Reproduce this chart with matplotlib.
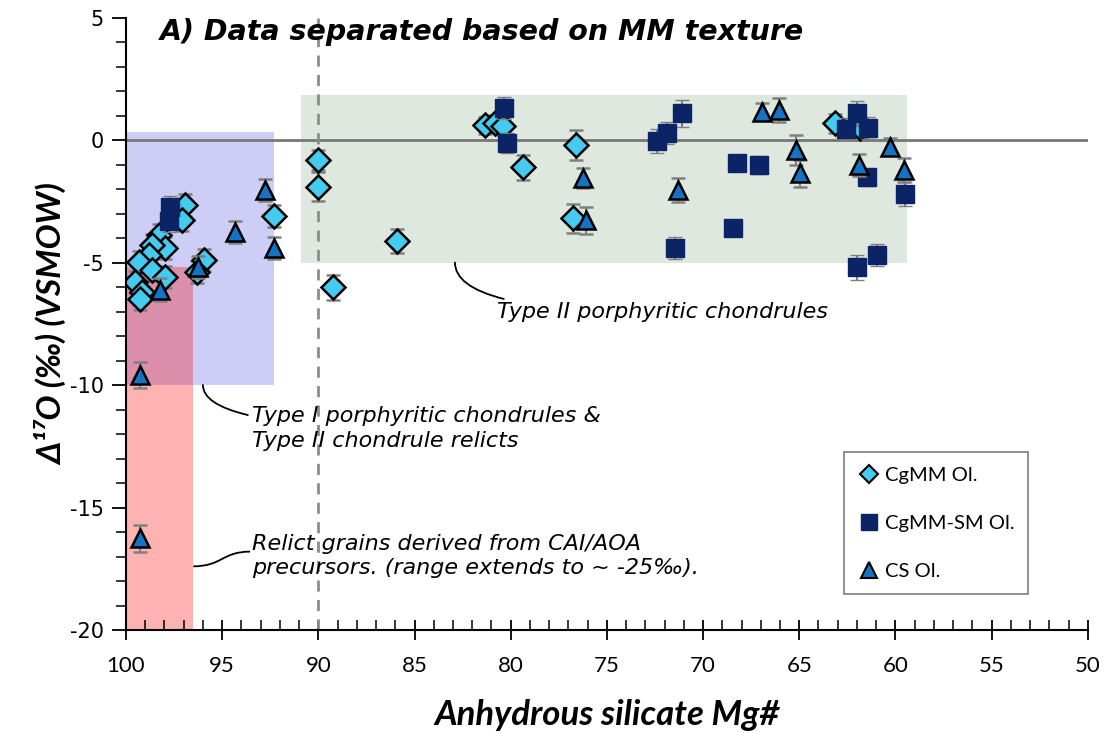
import numpy as np
import matplotlib
matplotlib.use("Agg")
import matplotlib.pyplot as plt
from matplotlib.lines import Line2D
from matplotlib.patches import Rectangle, PathPatch
from matplotlib.path import Path

plt.rcParams['axes.unicode_minus'] = False

# CgMM olivine (diamonds)
cg_x = [96.92, 97.09, 98.27, 97.96, 98.65, 98.82, 99.34, 98.65, 97.99, 99.52, 99.17, 99.26,
        95.96, 96.31, 92.29, 90.0, 90.0, 85.93, 89.23, 81.34, 80.82, 80.39, 79.38, 76.6,
        76.75, 63.15, 61.85]
cg_y = [-2.65, -3.27, -3.88, -4.42, -4.29, -4.69, -4.97, -5.31, -5.58, -5.78, -6.2, -6.47,
        -4.9, -5.4, -3.1, -0.82, -1.9, -4.11, -6.01, 0.61, 0.68, 0.57, -1.11, -0.2,
        -3.2, 0.68, 0.48]
cg_err = [0.45, 0.45, 0.45, 0.45, 0.45, 0.45, 0.45, 0.45, 0.45, 0.45, 0.45, 0.45,
          0.45, 0.45, 0.45, 0.4, 0.6, 0.5, 0.5, 0.35, 0.35, 0.35, 0.5, 0.6,
          0.6, 0.4, 0.4]

# CgMM-SM olivine (squares)
sm_x = [97.7, 97.75, 80.35, 80.21, 72.39, 71.87, 71.12, 71.47, 68.23, 67.08, 68.47,
        62.58, 62.02, 61.42, 61.47, 59.51, 62.02, 60.95]
sm_y = [-2.75, -3.3, 1.29, -0.13, -0.03, 0.3, 1.09, -4.42, -0.93, -1.02, -3.6,
        0.44, 1.09, 0.48, -1.52, -2.2, -5.2, -4.69]
sm_err = [0.45, 0.45, 0.45, 0.4, 0.5, 0.45, 0.55, 0.45, 0.3, 0.35, 0.3,
          0.45, 0.5, 0.45, 0.35, 0.5, 0.5, 0.45]

# CS olivine (triangles)
cs_x = [92.78, 94.33, 92.29, 96.26, 98.22, 99.27, 99.27, 76.26, 76.09, 71.3, 66.96,
        66.04, 65.18, 64.97, 61.89, 60.29, 59.56]
cs_y = [-2.04, -3.76, -4.42, -5.2, -6.1, -9.59, -16.26, -1.56, -3.27, -2.04, 1.16,
        1.22, -0.41, -1.36, -1.02, -0.27, -1.22]
cs_err = [0.45, 0.45, 0.45, 0.45, 0.45, 0.55, 0.55, 0.4, 0.55, 0.5, 0.35,
          0.5, 0.6, 0.55, 0.45, 0.35, 0.5]

fig = plt.figure(figsize=(11.1, 7.33), dpi=100)
ax = fig.add_axes([0.1135, 0.1405, 0.8665, 0.8355])

# shaded regions
ax.add_patch(Rectangle((90.9, -5.0), 59.4 - 90.9, 1.84 + 5.0, facecolor='#dfe8df', edgecolor='none', zorder=0))
ax.add_patch(Rectangle((100, -10), 92.3 - 100, 10.33, facecolor='#cdcdf6', edgecolor='none', zorder=0))
ax.add_patch(Rectangle((100, -25), 96.5 - 100, 19.8, facecolor='#ff0000', alpha=0.3, edgecolor='none', zorder=1))

ax.axhline(0, color='#777777', lw=2, zorder=2)
ax.axvline(90, color='#8c8c8c', lw=2, dashes=(4, 3), zorder=2)

eb = dict(ecolor='#808080', elinewidth=1.5, capsize=5, capthick=1.5, ls='none')
ax.errorbar(cg_x, cg_y, yerr=cg_err, marker='D', ms=12, mfc='#45cbef', mec='black', mew=1.8, zorder=3, **eb)
ax.errorbar(sm_x, sm_y, yerr=sm_err, marker='s', ms=13.5, mfc='#0b2466', mec='#0b2466', mew=1, zorder=4, **eb)
ax.errorbar(cs_x, cs_y, yerr=cs_err, marker='^', ms=13.5, mfc='#1573c4', mec='black', mew=1.8, zorder=5, **eb)

ax.set_xlim(100, 50)
ax.set_ylim(-20, 5)
ax.set_xticks(np.arange(100, 49, -5))
ax.set_xticks(np.arange(100, 49, -1), minor=True)
ax.set_yticks(np.arange(-20, 6, 5))
ax.set_yticks(np.arange(-20, 6, 1), minor=True)
for s in ['top', 'right']:
    ax.spines[s].set_visible(False)
for s in ['left', 'bottom']:
    ax.spines[s].set_linewidth(1.5)
    ax.spines[s].set_zorder(6)
ax.tick_params(axis='x', which='major', direction='inout', length=14, width=1.3, pad=12)
ax.tick_params(axis='x', which='minor', direction='in', length=7, width=1.1)
ax.tick_params(axis='y', which='major', direction='out', length=10, width=1.3, pad=6)
ax.tick_params(axis='y', which='minor', direction='out', length=7, width=1.1)
for lab in ax.get_xticklabels():
    lab.set_family('Lato')
    lab.set_fontsize(16)
for lab in ax.get_yticklabels():
    lab.set_family('DejaVu Sans')
    lab.set_fontsize(15)

ax.set_xlabel('Anhydrous silicate Mg#', family=['Lato', 'DejaVu Sans'], fontsize=25,
              fontweight='bold', style='italic', labelpad=16)
ax.set_ylabel('Δ¹⁷O (‰) (VSMOW)', family=['Lato', 'DejaVu Sans'], fontsize=24,
              fontweight='bold', style='italic', labelpad=2)

ax.text(0.035, 0.976, 'A) Data separated based on MM texture', transform=ax.transAxes,
        family='DejaVu Sans', fontsize=20.5, fontweight='bold', style='italic', va='center', ha='left')

# annotations
note = dict(family='DejaVu Sans', style='italic', fontsize=16, va='center', ha='left', linespacing=1.3)
ax.annotate('Type II porphyritic chondrules', xy=(82.9, -5.0), xytext=(80.72, -7.02),
            arrowprops=dict(arrowstyle='-', color='black', lw=1.3, shrinkA=1, shrinkB=0,
                            connectionstyle='angle3,angleA=0,angleB=90'), **note)
ax.annotate('Type I porphyritic chondrules &\nType II chondrule relicts', xy=(96.0, -10.0),
            xytext=(93.45, -11.76),
            arrowprops=dict(arrowstyle='-', color='black', lw=1.3, shrinkA=1, shrinkB=0,
                            connectionstyle='angle3,angleA=0,angleB=90'), **note)
ax.text(93.45, -16.98, 'Relict grains derived from CAI/AOA\nprecursors. (range extends to ~ -25‰).', **note)
verts = [(96.5, -17.4), (95.0, -17.4), (95.0, -16.8), (93.55, -16.8)]
ax.add_patch(PathPatch(Path(verts, [Path.MOVETO, Path.CURVE4, Path.CURVE4, Path.CURVE4]),
                       facecolor='none', edgecolor='black', lw=1.3, zorder=6))

handles = [
    Line2D([], [], ls='none', marker='D', ms=9, mfc='#45cbef', mec='black', mew=1.5),
    Line2D([], [], ls='none', marker='s', ms=11, mfc='#0b2466', mec='#0b2466'),
    Line2D([], [], ls='none', marker='^', ms=11, mfc='#1573c4', mec='black', mew=1.5),
]
leg = ax.legend(handles, ['CgMM Ol.', 'CgMM-SM Ol.', 'CS Ol.'], loc='upper left',
                bbox_to_anchor=(0.747, 0.29), borderaxespad=0, prop={'family': 'Lato', 'size': 14.5},
                fancybox=False, edgecolor='#888888', framealpha=1, handlelength=1.0,
                handletextpad=0.3, labelspacing=1.55, borderpad=0.7)
leg.get_frame().set_linewidth(1.3)
leg.set_zorder(7)

fig.savefig('out.png', dpi=100)
